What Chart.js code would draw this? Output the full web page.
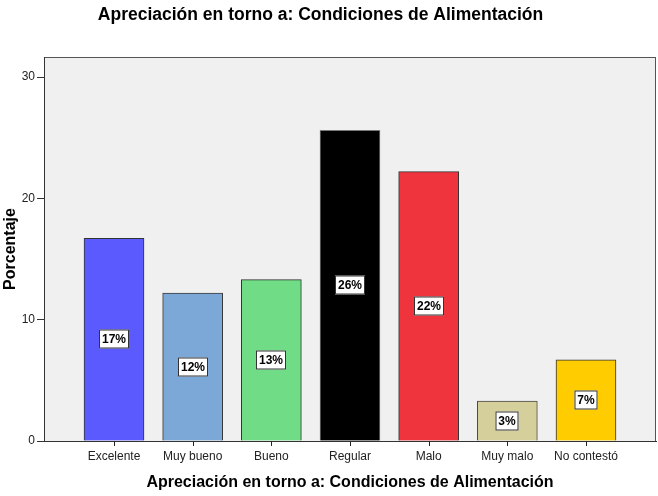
<!DOCTYPE html>
<html>
<head>
<meta charset="utf-8">
<script src="https://cdn.jsdelivr.net/npm/chart.js@4/dist/chart.umd.min.js"></script>
<style>
  html, body { margin: 0; padding: 0; background: #fff; }
  #wrap { width: 658px; height: 496px; }
</style>
</head>
<body>
<div id="wrap"><canvas id="chart" width="658" height="496"></canvas></div>
<script>
const chartTitle = 'Apreciación en torno a: Condiciones de Alimentación';
const categories = ['Excelente', 'Muy bueno', 'Bueno', 'Regular', 'Malo', 'Muy malo', 'No contestó'];
const percentages = [16.7, 12.2, 13.3, 25.6, 22.2, 3.3, 6.7];
const barColors = ['#5A5AFF', '#7BA8D6', '#70DD86', '#000000', '#F0343E', '#D5D09B', '#FFCC00'];
const barBorders = ['#333333', '#3a3a3a', '#333333', '#7a7a7a', '#333333', '#4a4a4a', '#333333'];
const yTicks = [0, 10, 20, 30];

const FONT = '"Liberation Sans", Arial, Helvetica, sans-serif';

// grey plot background with a frame around it
const plotBackground = {
    id: 'plotBackground',
    beforeDraw(chart) {
        const { ctx, chartArea: a } = chart;
        ctx.save();
        ctx.fillStyle = '#F0F0F0';
        ctx.fillRect(a.left, a.top, a.right - a.left, a.bottom - a.top);
        ctx.strokeStyle = '#555';
        ctx.lineWidth = 1;
        ctx.strokeRect(a.left + 0.5, a.top + 0.5, a.right - a.left - 1, a.bottom - a.top);
        ctx.restore();
    }
};

// small marks below the x axis, one per category
const xTickMarks = {
    id: 'xTickMarks',
    afterDraw(chart) {
        const { ctx } = chart;
        const x = chart.scales.x;
        ctx.save();
        ctx.strokeStyle = '#222';
        ctx.lineWidth = 1;
        ctx.beginPath();
        categories.forEach((c, i) => {
            const px = Math.round(x.getPixelForValue(i)) + 0.5;
            ctx.moveTo(px, x.top);
            ctx.lineTo(px, x.top + 5);
        });
        ctx.stroke();
        ctx.restore();
    }
};

// top title, drawn by hand so it can sit a little left of centre
const topTitle = {
    id: 'topTitle',
    afterDraw(chart) {
        const { ctx } = chart;
        ctx.save();
        ctx.font = 'bold 17.5px ' + FONT;
        ctx.fillStyle = '#000';
        ctx.textAlign = 'center';
        ctx.textBaseline = 'middle';
        ctx.fillText(chartTitle, 320.5, 15);
        ctx.restore();
    }
};

// boxed percentage labels in the middle of every bar
const barLabels = {
    id: 'barLabels',
    afterDatasetsDraw(chart) {
        const { ctx } = chart;
        const meta = chart.getDatasetMeta(0);
        ctx.save();
        ctx.font = 'bold 12px ' + FONT;
        ctx.textAlign = 'center';
        ctx.textBaseline = 'middle';
        meta.data.forEach((bar, i) => {
            const text = Math.round(percentages[i]) + '%';
            const w = Math.round(ctx.measureText(text).width) + 6;
            const h = 19;
            const cx = Math.round(bar.x);
            const cy = Math.round((bar.y + bar.base) / 2);
            ctx.fillStyle = '#fff';
            ctx.fillRect(cx - w / 2, cy - h / 2, w, h);
            ctx.strokeStyle = '#333';
            ctx.lineWidth = 1;
            ctx.strokeRect(cx - w / 2 + 0.5, cy - h / 2 + 0.5, w - 1, h - 1);
            ctx.fillStyle = '#000';
            ctx.fillText(text, cx, cy + 1);
        });
        ctx.restore();
    }
};

new Chart(document.getElementById('chart'), {
    type: 'bar',
    data: {
        datasets: [{
            data: percentages.map((v, i) => ({ x: i, y: v })),
            backgroundColor: barColors,
            borderColor: barBorders,
            borderWidth: 1,
            barThickness: 60
        }]
    },
    options: {
        responsive: false,
        animation: false,
        layout: { padding: { top: 57, right: 2, left: 0, bottom: 0 } },
        plugins: {
            legend: { display: false },
            tooltip: { enabled: false }
        },
        scales: {
            x: {
                type: 'linear',
                min: -0.89,
                max: 6.89,
                offset: false,
                afterFit: s => { s.height = 55; },
                afterBuildTicks: s => { s.ticks = categories.map((c, i) => ({ value: i })); },
                grid: { offset: false, drawOnChartArea: false, drawTicks: false },
                border: { display: true, color: '#333' },
                ticks: {
                    callback: v => categories[v],
                    color: '#222',
                    padding: 8,
                    maxRotation: 0,
                    autoSkip: false,
                    font: { family: FONT, size: 12 }
                },
                title: {
                    display: true,
                    text: chartTitle,
                    color: '#000',
                    padding: { top: 0, bottom: 4 },
                    font: { family: FONT, size: 16, weight: 'bold' }
                }
            },
            y: {
                min: 0,
                max: 31.65,
                afterFit: s => { s.width = 44; },
                afterBuildTicks: s => { s.ticks = yTicks.map(v => ({ value: v })); },
                grid: { drawOnChartArea: false, drawTicks: true, tickLength: 7, color: '#333' },
                border: { display: true, color: '#333' },
                ticks: {
                    color: '#222',
                    padding: 2,
                    font: { family: FONT, size: 12 }
                },
                title: {
                    display: true,
                    text: 'Porcentaje',
                    color: '#000',
                    padding: { top: 1, bottom: 0 },
                    font: { family: FONT, size: 16, weight: 'bold' }
                }
            }
        }
    },
    plugins: [plotBackground, barLabels, xTickMarks, topTitle]
});
</script>
</body>
</html>
